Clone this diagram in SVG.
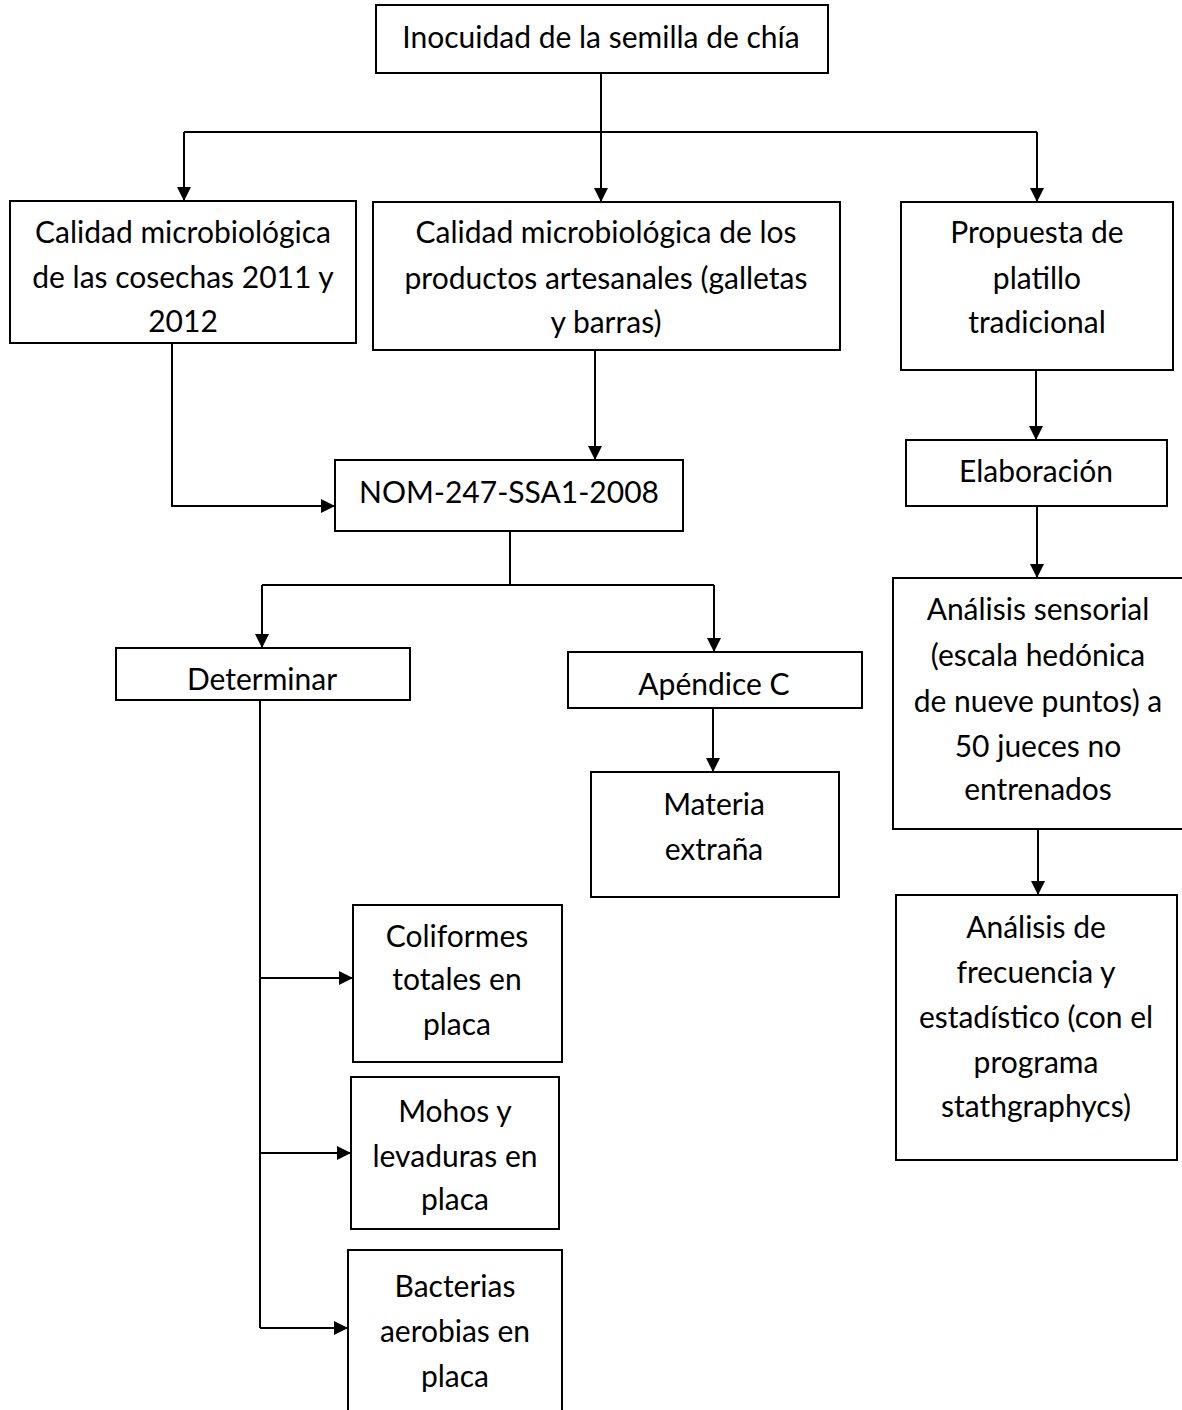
<svg xmlns="http://www.w3.org/2000/svg" width="1182" height="1410" viewBox="0 0 1182 1410">
<style>
.box{fill:#fff;stroke:#000;stroke-width:2}
.t{font-family:Lato,"Open Sans","Liberation Sans",sans-serif;font-size:30px;fill:#000;text-anchor:middle}
.c{fill:none;stroke:#000;stroke-width:2}
.a{fill:none;stroke:#000;stroke-width:2;marker-end:url(#ah)}
</style>
<defs>
<marker id="ah" markerUnits="userSpaceOnUse" markerWidth="14" markerHeight="14" refX="14" refY="7" orient="auto">
<path d="M0,0 L14,7 L0,14 z" fill="#000"/>
</marker>
</defs>
<rect width="1182" height="1410" fill="#fff"/>
<g id="connectors">
<path class="c" d="M601,73 V132 M184,132 H1037"/>
<path class="a" d="M184,132 V201"/>
<path class="a" d="M601,132 V202"/>
<path class="a" d="M1037,132 V202"/>
<path class="a" d="M172,343 V506 H335"/>
<path class="a" d="M595,350 V460"/>
<path class="c" d="M510,531 V585 M262,585 H714"/>
<path class="a" d="M262,585 V648"/>
<path class="a" d="M714,585 V652"/>
<path class="a" d="M713,708 V772"/>
<path class="c" d="M260,700 V1328"/>
<path class="a" d="M260,978 H353"/>
<path class="a" d="M260,1153 H351"/>
<path class="a" d="M260,1328 H348"/>
<path class="a" d="M1036,370 V440"/>
<path class="a" d="M1037,506 V578"/>
<path class="a" d="M1038,829 V895"/>
</g>
<g id="n-top"><rect class="box" x="376" y="5" width="452" height="68"/>
<text class="t" x="601" y="48">Inocuidad de la semilla de chía</text></g>
<g id="n-cosechas"><rect class="box" x="10" y="201" width="346" height="142"/>
<text class="t" x="183" y="243">Calidad microbiológica</text>
<text class="t" x="183" y="288">de las cosechas 2011 y</text>
<text class="t" x="183" y="332">2012</text></g>
<g id="n-productos"><rect class="box" x="373" y="202" width="467" height="148"/>
<text class="t" x="606" y="243">Calidad microbiológica de los</text>
<text class="t" x="606" y="289">productos artesanales (galletas</text>
<text class="t" x="606" y="333">y barras)</text></g>
<g id="n-propuesta"><rect class="box" x="901" y="202" width="272" height="168"/>
<text class="t" x="1037" y="243">Propuesta de</text>
<text class="t" x="1037" y="289">platillo</text>
<text class="t" x="1037" y="333">tradicional</text></g>
<g id="n-nom"><rect class="box" x="335" y="460" width="348" height="71"/>
<text class="t" x="509" y="503">NOM-247-SSA1-2008</text></g>
<g id="n-determinar"><rect class="box" x="116" y="648" width="294" height="52"/>
<text class="t" x="262" y="690">Determinar</text></g>
<g id="n-apendice"><rect class="box" x="568" y="652" width="294" height="56"/>
<text class="t" x="714" y="695">Apéndice C</text></g>
<g id="n-materia"><rect class="box" x="591" y="772" width="248" height="125"/>
<text class="t" x="714" y="815">Materia</text>
<text class="t" x="714" y="860">extraña</text></g>
<g id="n-elaboracion"><rect class="box" x="906" y="440" width="261" height="66"/>
<text class="t" x="1036" y="482">Elaboración</text></g>
<g id="n-sensorial"><rect class="box" x="893" y="578" width="292" height="251"/>
<text class="t" x="1038" y="620">Análisis sensorial</text>
<text class="t" x="1038" y="666">(escala hedónica</text>
<text class="t" x="1038" y="712">de nueve puntos) a</text>
<text class="t" x="1038" y="757">50 jueces no</text>
<text class="t" x="1038" y="800">entrenados</text></g>
<g id="n-frecuencia"><rect class="box" x="896" y="895" width="281" height="265"/>
<text class="t" x="1036" y="938">Análisis de</text>
<text class="t" x="1036" y="983">frecuencia y</text>
<text class="t" x="1036" y="1028">estadístico (con el</text>
<text class="t" x="1036" y="1073">programa</text>
<text class="t" x="1036" y="1117">stathgraphycs)</text></g>
<g id="n-coliformes"><rect class="box" x="353" y="905" width="209" height="157"/>
<text class="t" x="457" y="947">Coliformes</text>
<text class="t" x="457" y="990">totales en</text>
<text class="t" x="457" y="1035">placa</text></g>
<g id="n-mohos"><rect class="box" x="351" y="1077" width="208" height="152"/>
<text class="t" x="455" y="1122">Mohos y</text>
<text class="t" x="455" y="1167">levaduras en</text>
<text class="t" x="455" y="1210">placa</text></g>
<g id="n-bacterias"><rect class="box" x="348" y="1250" width="214" height="170"/>
<text class="t" x="455" y="1297">Bacterias</text>
<text class="t" x="455" y="1342">aerobias en</text>
<text class="t" x="455" y="1387">placa</text></g>
</svg>
